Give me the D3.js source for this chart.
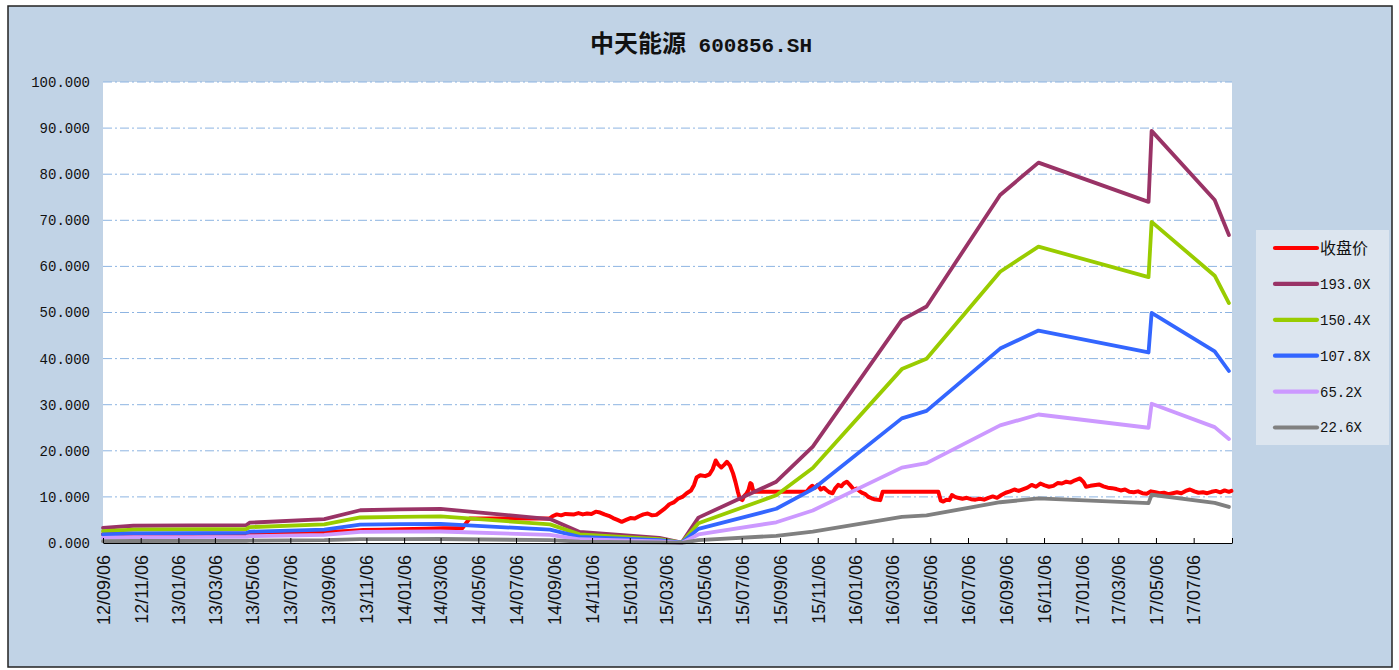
<!DOCTYPE html>
<html>
<head>
<meta charset="utf-8">
<script src="https://cdn.jsdelivr.net/npm/d3@7"></script>
<style>
  body { margin: 0; background: #fff; }
  svg { display: block; }
</style>
</head>
<body>
<svg id="chart"></svg>
<script>
// series names and PE multiples
const seriesNames = ["收盘价", "193.0X", "150.4X", "107.8X", "65.2X", "22.6X"];
const multiples = [193.0, 150.4, 107.8, 65.2, 22.6];

// trailing EPS (vertices only)
const epsDates = ["2012-09-06", "2012-10-25", "2013-04-26", "2013-05-01", "2013-08-30", "2013-10-27",
  "2013-12-30", "2014-03-06", "2014-08-30", "2014-10-17", "2015-02-23", "2015-03-31", "2015-04-27",
  "2015-08-31", "2015-10-29", "2016-03-21", "2016-04-30", "2016-08-27", "2016-10-28", "2017-04-24",
  "2017-04-29", "2017-08-09", "2017-09-01"];
const epsValues = [0.0171, 0.0194, 0.0202, 0.0228, 0.0269, 0.0368,
  0.0378, 0.0383, 0.0269, 0.0124, 0.0057, 0.0005, 0.0285,
  0.0689, 0.1083, 0.2508, 0.2658, 0.3912, 0.4275, 0.3834,
  0.4632, 0.3855, 0.3461];

// closing price
const priceDates = ["2012-09-06", "2012-10-15", "2012-11-20", "2013-01-04", "2013-02-20", "2013-04-01",
  "2013-05-15", "2013-07-01", "2013-08-01", "2013-09-02", "2013-10-08", "2013-11-01", "2013-12-02",
  "2014-01-02", "2014-02-10", "2014-03-10", "2014-04-10", "2014-04-22", "2014-08-29", "2014-09-03",
  "2014-09-10", "2014-09-17", "2014-09-24", "2014-10-08", "2014-10-15", "2014-10-22", "2014-10-29",
  "2014-11-05", "2014-11-12", "2014-11-19", "2014-11-26", "2014-12-03", "2014-12-10", "2014-12-17",
  "2014-12-24", "2014-12-31", "2015-01-07", "2015-01-14", "2015-01-21", "2015-01-28", "2015-02-04",
  "2015-02-11", "2015-02-18", "2015-03-04", "2015-03-11", "2015-03-18", "2015-03-25", "2015-04-01",
  "2015-04-08", "2015-04-15", "2015-04-20", "2015-04-24", "2015-04-30", "2015-05-08", "2015-05-15",
  "2015-05-20", "2015-05-25", "2015-05-29", "2015-06-03", "2015-06-08", "2015-06-12", "2015-06-17",
  "2015-06-22", "2015-06-26", "2015-06-30", "2015-07-03", "2015-07-07", "2015-07-10", "2015-07-14",
  "2015-07-17", "2015-07-20", "2015-07-22", "2015-07-24", "2015-07-28", "2015-10-19", "2015-10-23",
  "2015-10-28", "2015-11-02", "2015-11-06", "2015-11-11", "2015-11-16", "2015-11-20", "2015-11-25",
  "2015-11-30", "2015-12-04", "2015-12-09", "2015-12-14", "2015-12-18", "2015-12-23", "2015-12-28",
  "2016-01-04", "2016-01-08", "2016-01-13", "2016-01-18", "2016-01-22", "2016-01-27", "2016-02-01",
  "2016-02-05", "2016-02-15", "2016-02-19", "2016-05-19", "2016-05-23", "2016-05-27", "2016-06-01",
  "2016-06-06", "2016-06-10", "2016-06-15", "2016-06-20", "2016-06-27", "2016-07-04", "2016-07-11",
  "2016-07-18", "2016-07-25", "2016-08-01", "2016-08-08", "2016-08-15", "2016-08-22", "2016-08-29",
  "2016-09-05", "2016-09-12", "2016-09-19", "2016-09-26", "2016-10-10", "2016-10-17", "2016-10-24",
  "2016-10-31", "2016-11-07", "2016-11-14", "2016-11-21", "2016-11-28", "2016-12-05", "2016-12-12",
  "2016-12-19", "2016-12-26", "2017-01-03", "2017-01-09", "2017-01-13", "2017-01-20", "2017-02-03",
  "2017-02-10", "2017-02-17", "2017-02-24", "2017-03-03", "2017-03-10", "2017-03-17", "2017-03-24",
  "2017-03-31", "2017-04-07", "2017-04-14", "2017-04-21", "2017-04-28", "2017-05-05", "2017-05-12",
  "2017-05-19", "2017-05-26", "2017-06-02", "2017-06-09", "2017-06-16", "2017-06-23", "2017-06-30",
  "2017-07-07", "2017-07-14", "2017-07-21", "2017-07-28", "2017-08-04", "2017-08-11", "2017-08-18",
  "2017-08-25", "2017-09-01", "2017-09-05"];
const priceValues = [1.9, 2.0, 1.9, 1.9, 2.0, 2.0,
  2.0, 2.1, 2.3, 2.4, 2.6, 2.8, 2.9,
  3.0, 3.1, 3.2, 3.2, 5.3, 5.3, 5.8,
  6.2, 6.0, 6.3, 6.2, 6.5, 6.2, 6.4,
  6.3, 6.8, 6.6, 6.2, 5.9, 5.4, 5.0,
  4.6, 5.0, 5.4, 5.3, 5.8, 6.2, 6.4,
  6.0, 6.1, 7.5, 8.4, 8.8, 9.6, 10.0,
  10.8, 11.4, 12.6, 14.2, 14.7, 14.5, 14.9,
  16.0, 17.9, 17.0, 16.4, 17.0, 17.6, 16.8,
  15.1, 13.2, 11.0, 9.6, 9.3, 10.2, 10.8,
  11.5, 13.0, 12.8, 11.6, 11.1, 11.1, 11.8,
  12.4, 12.0, 12.6, 11.6, 12.0, 11.5, 11.0,
  10.8, 11.8, 12.6, 12.3, 12.9, 13.3, 12.6,
  11.5, 11.8, 11.2, 10.8, 10.6, 10.0, 9.7,
  9.5, 9.3, 11.1, 11.1, 9.2, 9.0, 9.4,
  9.3, 10.4, 10.0, 9.8, 9.6, 9.8, 9.5,
  9.4, 9.6, 9.4, 9.8, 10.1, 9.8, 10.4,
  10.9, 11.2, 11.6, 11.3, 12.0, 12.6, 12.2,
  12.9, 12.5, 12.2, 12.4, 13.0, 12.9, 13.3,
  13.1, 13.6, 14.0, 13.2, 12.2, 12.4, 12.7,
  12.3, 12.0, 11.9, 11.7, 11.4, 11.6, 11.1,
  11.0, 11.2, 10.8, 10.7, 11.2, 11.0, 10.8,
  10.9, 10.6, 10.8, 11.0, 10.8, 11.3, 11.6,
  11.2, 10.9, 11.0, 10.8, 11.1, 11.3, 11.0,
  11.4, 11.1, 11.3];

// axis ticks
const xTickLabels = ["12/09/06", "12/11/06", "13/01/06", "13/03/06", "13/05/06", "13/07/06", "13/09/06",
  "13/11/06", "14/01/06", "14/03/06", "14/05/06", "14/07/06", "14/09/06", "14/11/06", "15/01/06",
  "15/03/06", "15/05/06", "15/07/06", "15/09/06", "15/11/06", "16/01/06", "16/03/06", "16/05/06",
  "16/07/06", "16/09/06", "16/11/06", "17/01/06", "17/03/06", "17/05/06", "17/07/06", "17/09/06"];
const yTicks = [0, 10, 20, 30, 40, 50, 60, 70, 80, 90, 100];

const colors = ["#FF0000", "#993366", "#99CC00", "#3366FF", "#CC99FF", "#808080"];

const width = 1399, height = 670;
const plot = { left: 103, right: 1232, top: 82, bottom: 543 };

const parseDate = d3.timeParse("%Y-%m-%d");
const parseTick = d3.timeParse("%y/%m/%d");
const tickDates = xTickLabels.map(parseTick);

const price = priceDates.map((d, i) => ({ date: parseDate(d), value: priceValues[i] }));
const bands = multiples.map(m => epsDates.map((d, i) => ({ date: parseDate(d), value: epsValues[i] * m })));
const series = [price, ...bands];

const svg = d3.select("#chart").attr("width", width).attr("height", height);

// frame
svg.append("rect")
  .attr("x", 8).attr("y", 6)
  .attr("width", 1384).attr("height", 661)
  .attr("fill", "#C1D3E6")
  .attr("stroke", "#222")
  .attr("stroke-width", 1.5);

// plot area
svg.append("rect")
  .attr("x", plot.left).attr("y", plot.top)
  .attr("width", plot.right - plot.left).attr("height", plot.bottom - plot.top)
  .attr("fill", "#fff");

const x = d3.scaleTime()
  .domain([tickDates[0], tickDates[tickDates.length - 1]])
  .range([plot.left, plot.right]);

const y = d3.scaleLinear()
  .domain([0, 100])
  .range([plot.bottom, plot.top]);

// gridlines
svg.append("g")
  .selectAll("line")
  .data(yTicks.filter(d => d > 0))
  .enter()
  .append("line")
  .attr("x1", plot.left).attr("x2", plot.right)
  .attr("y1", d => y(d)).attr("y2", d => y(d))
  .attr("stroke", "#8DB4E2")
  .attr("stroke-width", 1)
  .attr("stroke-dasharray", "9,3,2,3");

// y axis labels
const yAxis = d3.axisLeft(y).tickValues(yTicks).tickSize(0).tickPadding(13).tickFormat(d3.format(".3f"));
const gy = svg.append("g")
  .attr("transform", `translate(${plot.left}, 0)`)
  .call(yAxis);
gy.select(".domain").remove();
gy.selectAll("text")
  .attr("fill", "#111")
  .style("font-family", "'Liberation Mono', 'DejaVu Sans Mono', monospace")
  .style("font-size", "14px");

// lines
const line = d3.line()
  .x(d => x(d.date))
  .y(d => y(d.value));

svg.append("g")
  .selectAll("path")
  .data(series)
  .enter()
  .append("path")
  .attr("d", line)
  .attr("fill", "none")
  .attr("stroke", (d, i) => colors[i])
  .attr("stroke-width", (d, i) => i === 0 ? 4 : 3.8)
  .attr("stroke-linejoin", "round")
  .attr("stroke-linecap", "round");

// x axis
const xAxis = d3.axisBottom(x)
  .tickValues(tickDates)
  .tickSizeInner(-5)
  .tickSizeOuter(0)
  .tickFormat((d, i) => i < xTickLabels.length - 1 ? xTickLabels[i] : "");
const gx = svg.append("g")
  .attr("transform", `translate(0, ${plot.bottom})`)
  .call(xAxis);
gx.select(".domain").attr("stroke", "#000").attr("stroke-width", 1.2);
gx.selectAll(".tick line").attr("stroke", "#000");
gx.selectAll("text")
  .attr("fill", "#111")
  .attr("text-anchor", "end")
  .attr("dy", "0.35em")
  .attr("transform", "translate(0, 12) rotate(-90)")
  .attr("x", 0)
  .attr("y", 0)
  .style("font-family", "'Liberation Sans', Arial, sans-serif")
  .style("font-size", "18px");

// title
const title = svg.append("text")
  .attr("x", 701)
  .attr("y", 52)
  .attr("text-anchor", "middle")
  .attr("fill", "#111")
  .style("font-weight", "bold");
title.append("tspan")
  .style("font-family", "'Noto Sans CJK SC', sans-serif")
  .style("font-size", "24px")
  .text("中天能源");
title.append("tspan")
  .style("font-family", "'Liberation Mono', monospace")
  .style("font-size", "21px")
  .text("\u00a0600856.SH");

// legend
const legend = svg.append("g");
legend.append("rect")
  .attr("x", 1256).attr("y", 230)
  .attr("width", 133).attr("height", 215)
  .attr("fill", "#DCE5EF");

const items = legend.selectAll("g.item")
  .data(seriesNames)
  .enter()
  .append("g")
  .attr("class", "item")
  .attr("transform", (d, i) => `translate(1275, ${248 + i * 35.9})`);

items.append("line")
  .attr("x1", 0).attr("x2", 42)
  .attr("stroke", (d, i) => colors[i])
  .attr("stroke-width", 4.2)
  .attr("stroke-linecap", "round");

items.append("text")
  .attr("x", 45)
  .attr("dy", "0.35em")
  .attr("fill", "#111")
  .style("font-family", (d, i) => i === 0 ? "'Noto Sans CJK SC', sans-serif" : "'Liberation Mono', monospace")
  .style("font-size", (d, i) => i === 0 ? "16px" : "14px")
  .text(d => d);
</script>
</body>
</html>
